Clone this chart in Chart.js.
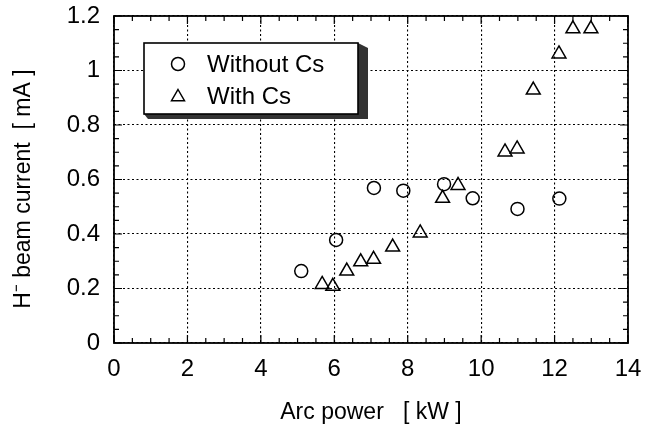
<!DOCTYPE html>
<html>
<head>
<meta charset="utf-8">
<script src="https://cdn.jsdelivr.net/npm/chart.js@4/dist/chart.umd.min.js"></script>
<style>
  body { margin: 0; background: #fff; }
  #wrap { width: 653px; height: 426px; }
</style>
</head>
<body>
<div id="wrap"><canvas id="arcChart" width="653" height="426"></canvas></div>
<script>
/* DATA */
const seriesNames = ["Without Cs", "With Cs"];
const withoutCsPower = [5.1, 6.05, 7.08, 7.88, 8.99, 9.77, 10.99, 12.13];
const withoutCsCurrent = [0.264, 0.378, 0.569, 0.559, 0.583, 0.531, 0.492, 0.530];
const withCsPower = [5.67, 5.96, 6.34, 6.72, 7.07, 7.59, 8.34, 8.95, 9.37, 10.65, 10.98, 11.42, 12.12, 12.5, 12.99];
const withCsCurrent = [0.215, 0.208, 0.264, 0.298, 0.307, 0.352, 0.404, 0.531, 0.578, 0.701, 0.712, 0.928, 1.061, 1.153, 1.153];
const xTicks = [0, 2, 4, 6, 8, 10, 12, 14];
const yTicks = [0, 0.2, 0.4, 0.6, 0.8, 1, 1.2];

const FONT = "'Liberation Sans', Arial, Helvetica, sans-serif";

function toPoints(xs, ys) {
    return xs.map(function(x, i) { return { x: x, y: ys[i] }; });
}

/* FRAME, INNER TICKS, LEGEND BOX */
const framePlugin = {
    id: "frame",
    afterDatasetsDraw: function(chart) {
        const ctx = chart.ctx;
        const a = chart.chartArea;
        const xs = chart.scales.x;
        const ys = chart.scales.y;
        ctx.save();
        ctx.strokeStyle = "#000";
        ctx.lineWidth = 1.2;
        // minor / major ticks pointing inward, all four sides
        for (let i = 0; i <= 28; i++) {
            const px = xs.getPixelForValue(i * 0.5);
            const len = (i % 4 === 0) ? 8 : 5;
            ctx.beginPath();
            ctx.moveTo(px, a.bottom); ctx.lineTo(px, a.bottom - len);
            ctx.moveTo(px, a.top); ctx.lineTo(px, a.top + len);
            ctx.stroke();
        }
        for (let i = 0; i <= 24; i++) {
            const py = ys.getPixelForValue(i * 0.05);
            const len = (i % 4 === 0) ? 8 : 5;
            ctx.beginPath();
            ctx.moveTo(a.left, py); ctx.lineTo(a.left + len, py);
            ctx.moveTo(a.right, py); ctx.lineTo(a.right - len, py);
            ctx.stroke();
        }
        ctx.lineWidth = 1.8;
        ctx.strokeRect(a.left, a.top, a.right - a.left, a.bottom - a.top);

        // legend box with drop shadow
        const bx = 144, by = 43, bw = 214, bh = 71;
        ctx.fillStyle = "#333";
        ctx.beginPath();
        ctx.moveTo(bx + bw, by);
        ctx.lineTo(bx + bw + 10, by + 5);
        ctx.lineTo(bx + bw + 10, by + bh + 5);
        ctx.lineTo(bx + 4, by + bh + 5);
        ctx.lineTo(bx, by + bh);
        ctx.closePath();
        ctx.fill();
        ctx.fillStyle = "#fff";
        ctx.fillRect(bx, by, bw, bh);
        ctx.lineWidth = 1.6;
        ctx.strokeStyle = "#000";
        ctx.strokeRect(bx, by, bw, bh);

        ctx.lineWidth = 1.5;
        ctx.beginPath();
        ctx.arc(178, 64, 6.5, 0, Math.PI * 2);
        ctx.stroke();
        const r = 7.5, tx = 178, ty = 97;
        ctx.beginPath();
        ctx.moveTo(tx, ty - r);
        ctx.lineTo(tx + r * 0.866, ty + r * 0.5);
        ctx.lineTo(tx - r * 0.866, ty + r * 0.5);
        ctx.closePath();
        ctx.stroke();

        ctx.fillStyle = "#000";
        ctx.font = "24px " + FONT;
        ctx.textBaseline = "middle";
        ctx.textAlign = "left";
        ctx.fillText(seriesNames[0], 207, 65);
        ctx.fillText(seriesNames[1], 207, 97);
        ctx.restore();
    }
};

const ctx = document.getElementById("arcChart").getContext("2d");
const arcChart = new Chart(ctx, {
    type: "scatter",
    data: {
        datasets: [
            {
                label: seriesNames[0],
                data: toPoints(withoutCsPower, withoutCsCurrent),
                pointStyle: "circle",
                pointRadius: 6.5,
                pointBorderWidth: 1.5,
                borderColor: "#000",
                backgroundColor: "rgba(255,255,255,0)"
            },
            {
                label: seriesNames[1],
                data: toPoints(withCsPower, withCsCurrent),
                pointStyle: "triangle",
                pointRadius: 8,
                pointBorderWidth: 1.5,
                borderColor: "#000",
                backgroundColor: "rgba(255,255,255,0)"
            }
        ]
    },
    options: {
        responsive: false,
        animation: false,
        layout: { padding: { left: 0, top: 16, right: 25, bottom: 0 } },
        plugins: {
            legend: { display: false },
            tooltip: { enabled: false }
        },
        scales: {
            x: {
                type: "linear",
                min: 0,
                max: 14,
                afterBuildTicks: function(scale) {
                    scale.ticks = xTicks.map(function(v) { return { value: v }; });
                },
                afterFit: function(scale) {
                    scale.height = 83;
                    scale.paddingLeft = 0;
                    scale.paddingRight = 0;
                },
                ticks: {
                    color: "#000",
                    font: { family: FONT, size: 24 },
                    padding: 12,
                    maxRotation: 0
                },
                grid: { color: "#000", lineWidth: 1.1, drawTicks: false },
                border: { display: false, dash: [2, 2.5] },
                title: {
                    display: true,
                    text: "Arc power   [ kW ]",
                    color: "#000",
                    font: { family: FONT, size: 23 },
                    padding: { top: 0, bottom: 0 }
                }
            },
            y: {
                type: "linear",
                min: 0,
                max: 1.2,
                afterBuildTicks: function(scale) {
                    scale.ticks = yTicks.map(function(v) { return { value: v }; });
                },
                afterFit: function(scale) {
                    scale.width = 114;
                    scale.paddingTop = 0;
                    scale.paddingBottom = 0;
                },
                ticks: {
                    color: "#000",
                    font: { family: FONT, size: 24 },
                    padding: 14,
                    callback: function(v) { return String(v); }
                },
                grid: { color: "#000", lineWidth: 1.1, drawTicks: false },
                border: { display: false, dash: [2, 2.5] },
                title: {
                    display: true,
                    text: "H\u207B beam current  [ mA ]\u00A0\u00A0\u00A0",
                    color: "#000",
                    font: { family: FONT, size: 23 },
                    padding: { top: 10, bottom: 4 }
                }
            }
        }
    },
    plugins: [framePlugin]
});
</script>
</body>
</html>
